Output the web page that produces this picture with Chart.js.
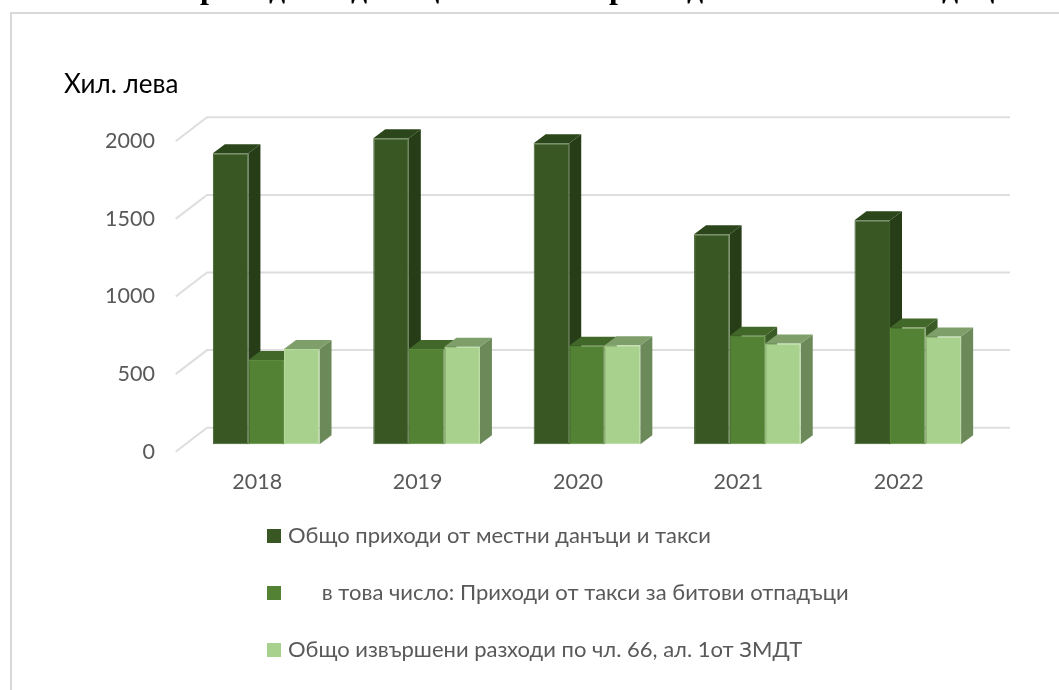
<!DOCTYPE html>
<html lang="bg">
<head>
<meta charset="utf-8">
<title>Хил. лева</title>
<style>
html,body{margin:0;padding:0;background:#fff;width:1059px;height:690px;overflow:hidden}
#wrap{position:relative;width:1059px;height:690px}
canvas{position:absolute;left:0;top:0}
.frag{position:absolute;font:bold 32px "Liberation Serif",serif;color:#000;line-height:32px;top:-29px;z-index:2}
</style>
<script src="https://cdn.jsdelivr.net/npm/chart.js@4"></script>
</head>
<body>
<div id="wrap"><canvas id="c" width="1059" height="690"></canvas></div>
<script>
const categories = ['2018','2019','2020','2021','2022'];
const totalRevenue = [1875,1972,1939,1353,1443];
const wasteFees = [543,614,635,700,752];
const spending = [614,629,639,650,694];
const seriesNames = [
  'Общо приходи от местни данъци и такси',
  '      в това число: Приходи от такси за битови отпадъци',
  'Общо извършени разходи по чл. 66, ал. 1от ЗМДТ'
];
const yTicks = [0,500,1000,1500,2000];
const frontColors = ['#385723','#548235','#A9D18E'];
const sideColors = ['#263D17','#3A5B25','#6C8A59'];
const topColors = ['#2C461B','#426829','#7F9F6A'];
const edgeColors = ['#3E5F29','#5B8B3B','#B4D99B'];
const titleFragments = [['р',200],['д',269],['д',351],['ц',421],['р',609],['д',687],['д',942],['ц',976]];

const DX = 12, DY = 9;            // bar depth
const BACK_Y = 16.6, FRONT_Y = 7.4; // floor offsets relative to the bars' front plane
const WALL_X = 207, FLOOR_X = 175.7, GRID_END = 1010;

titleFragments.forEach(([t,x])=>{
  const s=document.createElement('div');s.className='frag';s.textContent=t;s.style.left=x+'px';
  document.getElementById('wrap').appendChild(s);
});

function poly(ctx,pts,color){
  ctx.beginPath();
  pts.forEach((p,i)=> i?ctx.lineTo(p[0],p[1]):ctx.moveTo(p[0],p[1]));
  ctx.closePath();ctx.fillStyle=color;ctx.fill();
}

const scene3d = {
  id:'scene3d',
  beforeDraw(chart){
    const ctx=chart.ctx;
    ctx.save();
    ctx.fillStyle='#fff';ctx.fillRect(0,0,1059,690);
    ctx.strokeStyle='#D9D9D9';ctx.lineWidth=2;
    ctx.beginPath();ctx.moveTo(11,690);ctx.lineTo(11,13);ctx.lineTo(1059,13);ctx.stroke();
    ctx.restore();
  },
  afterLayout(chart){
    const pad = chart.legend.options.labels.padding;
    chart.legend.left = 271 - pad;
    chart.legend.top = 490;
  },
  beforeDatasetsDraw(chart){
    const ctx=chart.ctx, y=chart.scales.y;
    ctx.save();
    ctx.strokeStyle='#DEDEDE';ctx.lineWidth=2;ctx.lineCap='butt';
    y.ticks.forEach(t=>{
      const p=y.getPixelForValue(t.value);
      ctx.beginPath();
      ctx.moveTo(FLOOR_X,p+FRONT_Y);
      ctx.lineTo(WALL_X,p-BACK_Y);
      ctx.lineTo(GRID_END,p-BACK_Y);
      ctx.stroke();
    });
    chart.data.datasets.forEach((ds,di)=>{
      const meta=chart.getDatasetMeta(di);
      meta.data.forEach(el=>{
        const {x,y:top,base,width}=el.getProps(['x','y','base','width'],true);
        const l=x-width/2,r=x+width/2;
        poly(ctx,[[r,top],[r+DX,top-DY],[r+DX,base-DY],[r,base]],sideColors[di]);
        poly(ctx,[[l,top],[l+DX,top-DY],[r+DX,top-DY],[r,top]],topColors[di]);
        el.draw(ctx);
      });
    });
    ctx.restore();
    return false;
  }
};

new Chart(document.getElementById('c'),{
  type:'bar',
  data:{
    labels:categories,
    datasets:[totalRevenue,wasteFees,spending].map((d,i)=>({
      label:seriesNames[i],
      data:d,
      backgroundColor:frontColors[i],
      borderColor:edgeColors[i],
      borderWidth:1,
      borderSkipped:false,
      categoryPercentage:0.665,
      barPercentage:1
    }))
  },
  options:{
    responsive:false,
    animation:false,
    layout:{padding:{left:64,right:71,top:69.5,bottom:12.7}},
    plugins:{
      tooltip:{enabled:false},
      title:{
        display:true,text:'Хил. лева',align:'start',color:'#000',
        font:{family:'Lato, "Noto Sans", sans-serif',size:26,weight:'normal'},
        padding:{top:0,bottom:33.2}
      },
      legend:{
        position:'bottom',align:'start',
        labels:{
          color:'#595959',padding:35,boxWidth:6,boxHeight:6,
          font:{family:'Lato, "Noto Sans", sans-serif',size:22},
          generateLabels(chart){
            return chart.data.datasets.map((d,i)=>({
              text:d.label,fillStyle:frontColors[i],strokeStyle:frontColors[i],
              lineWidth:8,datasetIndex:i,fontColor:'#595959'
            }));
          }
        }
      }
    },
    scales:{
      x:{
        grid:{display:false,drawTicks:false},border:{display:false},
        afterFit(s){s.height=52;},
        ticks:{color:'#595959',padding:25,labelOffset:-9,maxRotation:0,
          font:{family:'Lato, "Noto Sans", sans-serif',size:21.5}}
      },
      y:{
        min:0,max:2000,
        afterBuildTicks(s){s.ticks=yTicks.map(v=>({value:v}));},
        grid:{display:false,drawTicks:false},border:{display:false},
        afterFit(s){s.width=122;},
        ticks:{color:'#595959',padding:31,labelOffset:7.4,
          callback:v=>String(v),
          font:{family:'Lato, "Noto Sans", sans-serif',size:21.5}}
      }
    }
  },
  plugins:[scene3d]
});
</script>
</body>
</html>
